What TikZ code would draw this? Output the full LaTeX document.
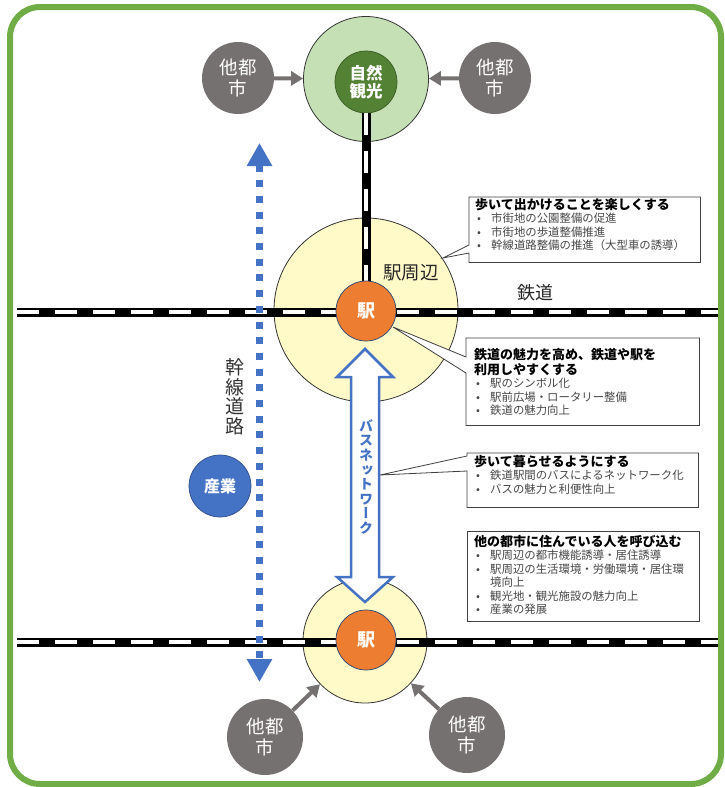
\documentclass[tikz,border=0pt]{standalone}
\usepackage{fontspec}
\setmainfont{Noto Sans CJK JP}
\newfontfamily\jpv[RawFeature={+vert}]{Noto Sans CJK JP}
\usetikzlibrary{arrows.meta,calc}
\definecolor{frameg}{HTML}{70AD47}
\definecolor{lgreen}{HTML}{C5E0B4}
\definecolor{dgreen}{HTML}{548235}
\definecolor{cgray}{HTML}{767171}
\definecolor{lyellow}{HTML}{FFFAC8}
\definecolor{orng}{HTML}{ED7D31}
\definecolor{blu}{HTML}{4472C4}
\newcommand\ttl{\bfseries\fontsize{13}{15}\selectfont}
\newcommand\bfnt{\fontsize{11.4}{13.5}\selectfont\color{black!72}}
\newcommand\bl{\makebox[16pt][l]{\hspace{2pt}•}}
\tikzset{
  railbase/.style={line width=9pt, black},
  railtop/.style={line width=4pt, white, dash pattern=on 22pt off 16pt},
  garrow/.style={cgray, line width=4pt, -{Triangle[width=14pt,length=12pt]}},
  gcity/.style={circle, fill=cgray, text=white, inner sep=0, align=center, font=\fontsize{18.5}{21}\selectfont},
  zone/.style={circle, fill=lyellow, draw=black!80, line width=0.8pt, inner sep=0},
  station/.style={circle, fill=orng, draw=blu!60!black, line width=0.7pt, minimum size=60pt, inner sep=0, text=white, font=\bfseries\fontsize{18}{20}\selectfont},
  callout/.style={draw=black!75, line width=0.8pt, fill=white},
  cbox/.style={anchor=north west, inner sep=0, draw=none},
  ctext/.style={anchor=base west, inner sep=0},
}
\begin{document}
\begin{tikzpicture}[x=1pt,y=-1pt]
\useasboundingbox (0,0) rectangle (725,787);
\draw[frameg, line width=6pt, rounded corners=30pt] (10,7) rectangle (721,784);

% zones
\node[zone, minimum size=184pt] (z1) at (366,310) {};
\node[zone, minimum size=124pt] (z2) at (365,641) {};
\node[circle, fill=lgreen, draw=black!80, line width=0.8pt, minimum size=125pt, inner sep=0] (natout) at (366,79) {};
\node[circle, fill=dgreen, draw=dgreen!70!black, line width=0.7pt, minimum size=62pt, inner sep=0, text=white, align=center, font=\bfseries\fontsize{16.5}{18.5}\selectfont] (nat) at (366,82) {自然\\観光};

% stations (positions needed for rails)
\coordinate (s1c) at (366,311);
\coordinate (s2c) at (366,640);

% rails
\coordinate (r1w) at (17,312); \coordinate (r1e) at (718,312);
\coordinate (r2w) at (17,642); \coordinate (r2e) at (718,642);
\draw[railbase] (r1w) -- (r1e); \draw[railtop] (r1w) -- (r1e);
\draw[railbase] (r2w) -- (r2e); \draw[railtop] (r2w) -- (r2e);
\draw[railbase] (nat.south) -- (s1c); \draw[railtop] (nat.south) -- (s1c);

% trunk road
\coordinate (rdt) at (259.5,143); \coordinate (rdb) at (259.5,682);
\draw[blu, line width=7pt, dash pattern=on 7pt off 8.7pt, {Triangle[width=24pt,length=23pt]}-{Triangle[width=24pt,length=23pt]}] (rdt) -- (rdb);

% stations
\node[station] (st1) at (s1c) {駅};
\node[station] (st2) at (s2c) {駅};

% other cities
\node[gcity, minimum size=72pt] (gtl) at (238,78) {他都\\市};
\node[gcity, minimum size=72pt] (gtr) at (495,78) {他都\\市};
\node[gcity, minimum size=76pt] (gbl) at (265,737) {他都\\市};
\node[gcity, minimum size=76pt] (gbr) at (467,735) {他都\\市};
\draw[garrow] (gtl) -- (natout);
\draw[garrow] (gtr) -- (natout);
\draw[garrow] (gbl) -- (z2);
\draw[garrow] (gbr) -- (z2);

% industry
\node[circle, fill=blu, draw=blu!70!black, line width=0.7pt, minimum size=62pt, inner sep=0, text=white, font=\bfseries\fontsize{16}{18}\selectfont] (ind) at (220,486) {産業};

% bus network double arrow
\coordinate (bt) at (365,349); \coordinate (bb) at (365,602);
\draw[blu, line width=2.5pt, fill=white, line join=miter]
  (bt) -- ++(28,28) -- ++(-14,0) -- ($(bb)+(14,-25)$) -- ++(14,0) -- (bb)
  -- ++(-28,-25) -- ++(14,0) -- ($(bt)+(-14,28)$) -- ++(-14,0) -- cycle;
\node[align=center, text=blu, inner sep=0, font=\jpv\bfseries\fontsize{14}{14.6}\selectfont] (bus) at (366,477) {バ\\ス\\ネ\\ッ\\ト\\ワ\\ー\\ク};

% labels
\node[align=center, inner sep=0, text=black!80, font=\fontsize{19}{19.5}\selectfont] (kansen) at (235,397) {幹\\線\\道\\路};
\node[inner sep=0, text=black!85, font=\fontsize{18.5}{20}\selectfont] (ekish) at (411,273) {駅周辺};
\node[inner sep=0, text=black!85, font=\fontsize{18}{20}\selectfont] (tetsu) at (535,293) {鉄道};

% callout 1
\node[cbox, minimum width=231pt, minimum height=65pt] (c1) at (469,197) {};
\coordinate (p1) at (443,258);
\draw[callout] (c1.north west) -- (c1.north east) -- (c1.south east) -- (c1.south west) -- (469,253) -- (p1) -- (469,245) -- cycle;
\node[ctext] (t1) at (475,209) {\parbox[t]{224pt}{\raggedright
{\ttl 歩いて出かけることを楽しくする\par}
{\bfnt\bl 市街地の公園整備の促進\par
\bl 市街地の歩道整備推進\par
\bl 幹線道路整備の推進（大型車の誘導）\par}}};

% callout 2
\node[cbox, minimum width=233pt, minimum height=87pt] (c2) at (466,338) {};
\coordinate (p2) at (393,327);
\draw[callout] (c2.north west) -- (c2.north east) -- (c2.south east) -- (c2.south west) -- (466,373) -- (p2) -- (466,357) -- cycle;
\node[ctext] (t2) at (474,359) {\parbox[t]{224pt}{\raggedright
{\ttl 鉄道の魅力を高め、鉄道や駅を\par 利用しやすくする\par}
{\bfnt\bl 駅のシンボル化\par
\bl 駅前広場・ロータリー整備\par
\bl 鉄道の魅力向上\par}}};

% callout 3
\node[cbox, minimum width=231pt, minimum height=54pt] (c3) at (467,453) {};
\coordinate (p3) at (380,475);
\draw[callout] (c3.north west) -- (c3.north east) -- (c3.south east) -- (c3.south west) -- (467,471) -- (p3) -- (467,456) -- cycle;
\node[ctext] (t3) at (474,466) {\parbox[t]{224pt}{\raggedright
{\ttl 歩いて暮らせるようにする\par}
{\bfnt\bl 鉄道駅間のバスによるネットワーク化\par
\bl バスの魅力と利便性向上\par}}};

% box 4
\node[cbox, minimum width=232pt, minimum height=90pt, draw=black!75, line width=0.8pt, fill=white] (c4) at (467,531) {};
\node[ctext] (t4) at (474,546) {\parbox[t]{224pt}{\raggedright
{\ttl 他の都市に住んでいる人を呼び込む\par}
{\bfnt\bl 駅周辺の都市機能誘導・居住誘導\par
\bl 駅周辺の生活環境・労働環境・居住環\par
\hspace*{16pt}境向上\par
\bl 観光地・観光施設の魅力向上\par
\bl 産業の発展\par}}};
\end{tikzpicture}
\end{document}
